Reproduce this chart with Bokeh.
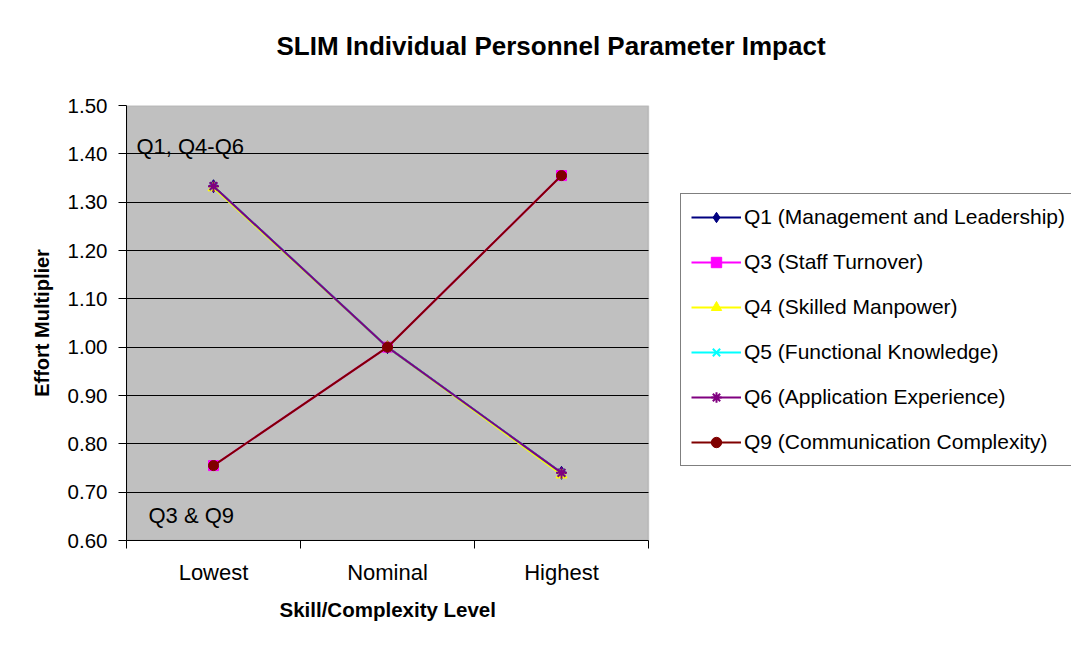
from bokeh.plotting import figure
from bokeh.models import (Range1d, FixedTicker, Legend, LegendItem, Label,
                          PrintfTickFormatter, BoxAnnotation, Title)
from bokeh.embed import file_html
from bokeh.resources import INLINE

# ---------------- data ----------------
levels = ["Lowest", "Nominal", "Highest"]
series_names = [
    "Q1 (Management and Leadership)",
    "Q3 (Staff Turnover)",
    "Q4 (Skilled Manpower)",
    "Q5 (Functional Knowledge)",
    "Q6 (Application Experience)",
    "Q9 (Communication Complexity)",
]
q1 = [1.333, 1.00, 0.740]
q3 = [0.755, 1.00, 1.355]
q4 = [1.330, 1.00, 0.736]
q5 = [1.333, 1.00, 0.740]
q6 = [1.333, 1.00, 0.740]
q9 = [0.755, 1.00, 1.355]
y_ticks = [0.60, 0.70, 0.80, 0.90, 1.00, 1.10, 1.20, 1.30, 1.40, 1.50]
note_top = "Q1, Q4-Q6"
note_bottom = "Q3 & Q9"
title_text = "SLIM Individual Personnel Parameter Impact"
x_title = "Skill/Complexity Level"
y_title = "Effort Multiplier"

FONT = "Liberation Sans"

series_values = [q1, q3, q4, q5, q6, q9]
styles = [
    ("diamond", "#000080", 13),
    ("square", "#FF00FF", 10),
    ("triangle", "#FFFF00", 11),
    ("x", "#00FFFF", 10),
    ("asterisk", "#800080", 11),
    ("circle", "#800000", 10),
]

# ---------------- layout ----------------
W, H = 1071, 632
LEFT, TOP, BOTTOM = 126, 105, 92
PLOT_W = 522                      # width of the gray plot area in px
n = len(levels)
frame_w = W - LEFT
x_end = n * frame_w / PLOT_W      # frame extends to the right edge, plot area is [0, n]

centers = [i + 0.5 for i in range(n)]
bounds = [float(i) for i in range(n + 1)]

p = figure(
    width=W, height=H, output_backend="svg", toolbar_location=None,
    x_range=Range1d(0, x_end), y_range=Range1d(y_ticks[0], y_ticks[-1]),
    min_border_left=LEFT, min_border_right=0, min_border_top=TOP, min_border_bottom=BOTTOM,
)

p.background_fill_color = "white"
p.border_fill_color = "white"
p.outline_line_color = None

# gray plot area
p.add_layout(BoxAnnotation(left=0, right=n, fill_color="#C0C0C0", fill_alpha=1,
                           line_color="#808080", line_width=1.5, level="image"))

# chart title (outer slot)
p.title.text = title_text
p.title.text_font = FONT
p.title.text_font_size = "26px"
p.title.text_font_style = "bold"
p.title.text_color = "black"
p.title.align = "left"
p.title.offset = 150
p.title.standoff = 0

# spacer between title and frame (added later -> nearer the frame)
p.add_layout(Title(text=" ", text_font_size="10px", standoff=32), "above")

# grid
p.xgrid.visible = False
p.ygrid.ticker = FixedTicker(ticks=y_ticks)
p.ygrid.grid_line_color = "black"
p.ygrid.grid_line_width = 1
p.ygrid.cross_bounds = (0, n)

# y axis
ya = p.yaxis[0]
ya.ticker = FixedTicker(ticks=y_ticks)
ya.formatter = PrintfTickFormatter(format="%.2f")
ya.major_tick_out = 8
ya.major_tick_in = 0
ya.minor_tick_out = 0
ya.minor_tick_in = 0
ya.axis_line_color = "black"
ya.major_tick_line_color = "black"
ya.major_label_text_font = FONT
ya.major_label_text_font_size = "20.5px"
ya.major_label_text_color = "black"
ya.major_label_standoff = 11
ya.axis_label = y_title
ya.axis_label_text_font = FONT
ya.axis_label_text_font_size = "20px"
ya.axis_label_text_font_style = "bold"
ya.axis_label_text_color = "black"
ya.axis_label_standoff = 12

# x axis
xa = p.xaxis[0]
xa.bounds = (0, n)
xa.ticker = FixedTicker(ticks=centers, minor_ticks=bounds)
xa.major_label_overrides = {c: lab for c, lab in zip(centers, levels)}
xa.major_tick_out = 0
xa.major_tick_in = 0
xa.minor_tick_out = 8
xa.minor_tick_in = 0
xa.minor_tick_line_color = "black"
xa.axis_line_color = "black"
xa.major_label_text_font = FONT
xa.major_label_text_font_size = "22px"
xa.major_label_text_color = "black"
xa.major_label_standoff = 11

# x axis title, centred under the gray plot area
p.add_layout(Title(text=x_title, text_font=FONT, text_font_size="20.5px",
                   text_font_style="bold", text_color="black",
                   align="left", offset=153, standoff=16), "below")

items = []
for name, vals, (marker, color, size) in zip(series_names, series_values, styles):
    ln = p.line(centers, vals, line_color=color, line_width=2)
    sc = p.scatter(centers, vals, marker=marker, size=size, fill_color=color,
                   line_color=color, line_width=2 if marker in ("x", "asterisk") else 1)
    items.append(LegendItem(label=name, renderers=[ln, sc]))

legend = Legend(items=items, location=(554, 74))
legend.label_text_font = FONT
legend.label_text_font_size = "21px"
legend.label_text_color = "black"
legend.border_line_color = "black"
legend.border_line_width = 1
legend.background_fill_color = "white"
legend.background_fill_alpha = 1
legend.padding = 10
legend.margin = 0
legend.spacing = 19
legend.glyph_width = 50
legend.glyph_height = 26
legend.label_height = 22
legend.label_standoff = 3
p.add_layout(legend, "center")

p.add_layout(Label(x=0.057, y=1.415, text=note_top, text_font=FONT, text_font_size="22px",
                   text_color="black", text_baseline="alphabetic"))
p.add_layout(Label(x=0.126, y=0.652, text=note_bottom, text_font=FONT, text_font_size="22px",
                   text_color="black", text_baseline="alphabetic"))

open("out.html", "w").write(file_html(p, INLINE))
